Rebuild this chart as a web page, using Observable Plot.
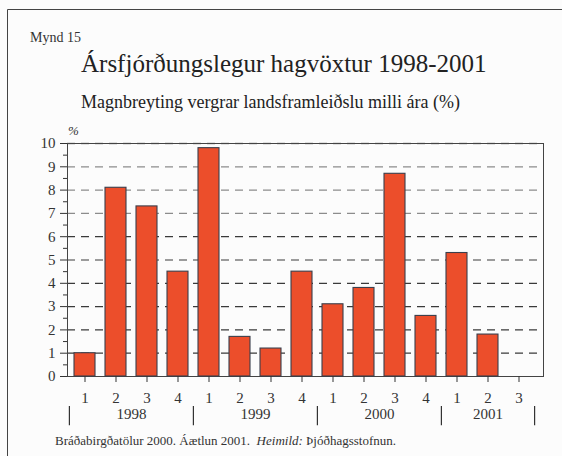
<!DOCTYPE html>
<html>
<head>
<meta charset="utf-8">
<script src="https://cdn.jsdelivr.net/npm/d3@7"></script>
<script src="https://cdn.jsdelivr.net/npm/@observablehq/plot@0.6"></script>
<style>
  html, body { margin: 0; padding: 0; background: #fcfcfc; }
  #chart { width: 562px; height: 456px; }
</style>
</head>
<body>
<div id="chart"></div>
<script>
// ---- data ----
const barYears = ["1998","1998","1998","1998","1999","1999","1999","1999","2000","2000","2000","2000","2001","2001","2001"];
const quarters = ["1","2","3","4","1","2","3","4","1","2","3","4","1","2","3"];
const values   = [1.0, 8.1, 7.3, 4.5, 9.8, 1.7, 1.2, 4.5, 3.1, 3.8, 8.7, 2.6, 5.3, 1.8, 0.0];
const years    = ["1998", "1999", "2000", "2001"];
const yTicks   = [0, 1, 2, 3, 4, 5, 6, 7, 8, 9, 10];
const yMinor   = [0.5, 1.5, 2.5, 3.5, 4.5, 5.5, 6.5, 7.5, 8.5, 9.5];
const gridLow  = [1, 2, 3, 4, 5, 6];
const gridHigh = [7, 8, 9, 10];

const titleText    = "Ársfjórðungslegur hagvöxtur 1998-2001";
const subtitleText = "Magnbreyting vergrar landsframleiðslu milli ára (%)";
const figLabel     = "Mynd 15";
const unitLabel    = "%";
const captionA     = "Bráðabirgðatölur 2000. Áætlun 2001.  ";
const captionB     = "Heimild:";
const captionC     = " Þjóðhagsstofnun.";

// ---- derived tables ----
const keys = values.map((v, i) => barYears[i] + "-" + quarters[i]);
const data = values.map((v, i) => ({key: keys[i], value: v}));
const sepBefore = years.map(y => keys[barYears.indexOf(y)]);
const sepAfter  = [keys[keys.length - 1]];
const yearLabels = years.map(y => {
  const ks = keys.filter((k, i) => barYears[i] === y);
  return {year: y, key: ks[Math.floor((ks.length - 1) / 2)], even: ks.length % 2 === 0};
});

const step = 31.2;
const font = "'Liberation Serif', 'Times New Roman', serif";

const plot = Plot.plot({
  width: 562,
  height: 456,
  marginLeft: 67,
  marginRight: 19,
  marginTop: 143,
  marginBottom: 80,
  style: {fontFamily: font, fontSize: "14px", color: "#333", background: "#fcfcfc", overflow: "visible"},
  x: {domain: keys, paddingInner: 0.33, paddingOuter: 0.293, align: 0.33, axis: null, label: null},
  y: {domain: [0, 10], axis: null, label: null},
  marks: [
    Plot.ruleY(gridLow,  {stroke: "#3a3a3a", strokeWidth: 1.2, strokeDasharray: "8,6", insetRight: 6}),
    Plot.ruleY(gridHigh, {stroke: "#8c8c8c", strokeWidth: 1.3, strokeDasharray: "8,6", insetRight: 6}),
    Plot.frame({stroke: "#444"}),
    Plot.barY(data, {x: "key", y: "value", fill: "#EC4E2B", stroke: "#3a3f4c", strokeWidth: 1.1}),
    Plot.axisY({ticks: yTicks, tickSize: 7, tickPadding: 5, fontSize: 15, stroke: "#333", label: null}),
    Plot.axisY({ticks: yMinor, tickSize: 4, tickFormat: () => "", stroke: "#333", label: null}),
    Plot.axisX({tickSize: 6, tickPadding: 10, fontSize: 15, stroke: "#333", label: null, tickFormat: d => d.split("-")[1]}),
    Plot.ruleX(sepBefore, {x: d => d, dx: -step / 2, y1: -1.29, y2: -2.11, stroke: "#333", strokeWidth: 1.2}),
    Plot.ruleX(sepAfter,  {x: d => d, dx:  step / 2, y1: -1.29, y2: -2.11, stroke: "#333", strokeWidth: 1.2}),
    Plot.text(yearLabels.filter(d => d.even),  {x: "key", text: "year", dx: step / 2, frameAnchor: "bottom", dy: 42, fontSize: 15, fill: "#333"}),
    Plot.text(yearLabels.filter(d => !d.even), {x: "key", text: "year", frameAnchor: "bottom", dy: 42, fontSize: 15, fill: "#333"})
  ]
});

document.getElementById("chart").appendChild(plot);

// ---- titles, labels, caption, outer border ----
const svg = d3.select(plot);
svg.append("path").attr("d", "M7.5,456V9.5H562").attr("fill", "none").attr("stroke", "#444").attr("stroke-width", 1);
const addText = (x, y, size, str, fill) => svg.append("text")
  .attr("x", x).attr("y", y).style("font-family", font).attr("font-size", size)
  .attr("fill", fill).attr("text-anchor", "start").text(str);
addText(30, 42, 14, figLabel, "#333");
addText(81, 72, 25, titleText, "#222");
addText(81, 108, 18, subtitleText, "#222");
addText(68, 135, 13, unitLabel, "#333").attr("font-style", "italic");
const cap = svg.append("text").attr("x", 55).attr("y", 445).style("font-family", font).attr("font-size", 13)
  .attr("fill", "#333").attr("text-anchor", "start").style("white-space", "pre");
cap.append("tspan").text(captionA);
cap.append("tspan").attr("font-style", "italic").text(captionB);
cap.append("tspan").text(captionC);
</script>
</body>
</html>
